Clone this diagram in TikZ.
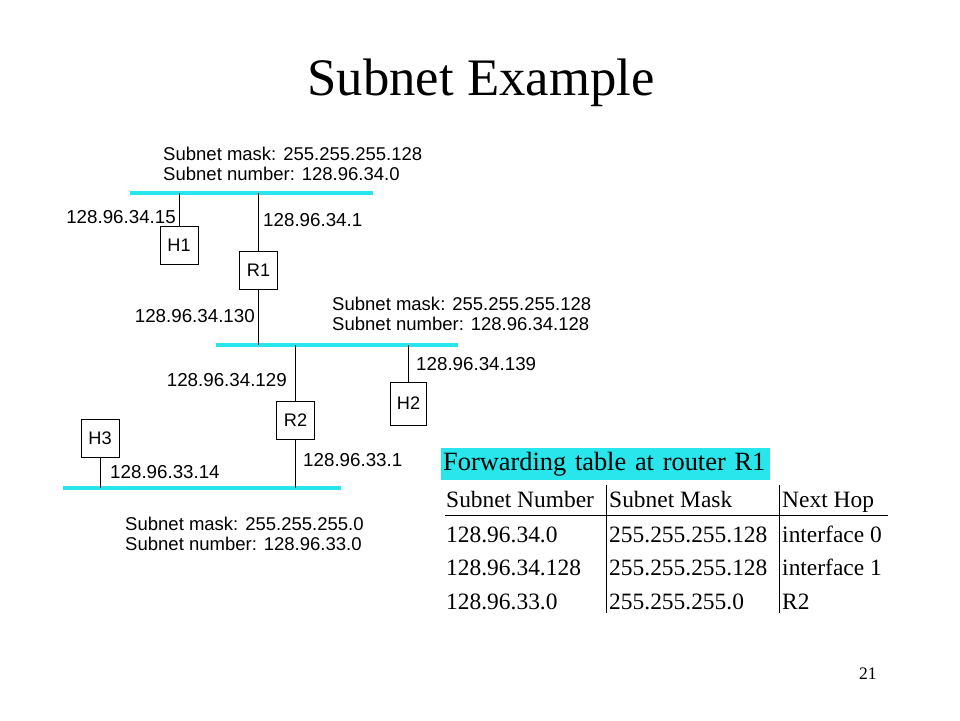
\documentclass[tikz,border=0pt]{standalone}
\usepackage{fontspec}
\setmainfont{Liberation Serif}
\newfontfamily\arialfont{Liberation Sans}
\usetikzlibrary{positioning}
\definecolor{netcyan}{RGB}{40,230,235}

\begin{document}
\begin{tikzpicture}[x=0.03cm, y=-0.03cm,
  every node/.style={inner sep=0pt},
  devbox/.style={draw, minimum width=1.14cm, minimum height=1.14cm,
                 font=\arialfont\fontsize{15.5}{16}\selectfont},
  bus/.style={draw=netcyan, line width=3.6pt},
  addr/.style={font=\arialfont\fontsize{16}{17}\selectfont},
  netinfo/.style={anchor=north west, align=left,
                  font=\arialfont\fontsize{15.8}{17}\selectfont},
  cell/.style={anchor=base west, font=\fontsize{20}{22}\selectfont}]
\useasboundingbox (0,0) rectangle (960,720);

%% -- Title -------------------------------------------------------
\node[anchor=base, font=\fontsize{45}{50}\selectfont] (title) at (481,95) {Subnet Example};

%% -- Bus segments ------------------------------------------------
\coordinate (netAw) at (130,193); \coordinate (netAe) at (373,193);
\coordinate (netBw) at (216,345); \coordinate (netBe) at (458,345);
\coordinate (netCw) at (63,488);  \coordinate (netCe) at (341,488);
\draw[bus] (netAw) -- (netAe);
\draw[bus] (netBw) -- (netBe);
\draw[bus] (netCw) -- (netCe);

%% -- Subnet descriptions -----------------------------------------
\node[netinfo] (infoA) at (163,147) {Subnet mask: 255.255.255.128\\Subnet number: 128.96.34.0};
\node[netinfo] (infoB) at (332,297) {Subnet mask: 255.255.255.128\\Subnet number: 128.96.34.128};
\node[netinfo] (infoC) at (125,517) {Subnet mask: 255.255.255.0\\Subnet number: 128.96.33.0};

%% -- Hosts and routers -------------------------------------------
\node[devbox] (H1) at (179,245)   {H1};
\node[devbox] (R1) at (258.5,270) {R1};
\node[devbox] (R2) at (295.5,420) {R2};
\node[devbox, minimum width=1.08cm, minimum height=1.29cm] (H2) at (408.5,403.5) {H2};
\node[devbox] (H3) at (100,438.5) {H3};

%% -- Links to the buses ------------------------------------------
\draw (H1.north) -- (H1.north |- netAw);
\draw (R1.north) -- (R1.north |- netAw);
\draw (R1.south) -- (R1.south |- netBw);
\draw (R2.north) -- (R2.north |- netBw);
\draw (H2.north) -- (H2.north |- netBw);
\draw (R2.south) -- (R2.south |- netCw);
\draw (H3.south) -- (H3.south |- netCw);

%% -- Interface addresses -----------------------------------------
\node[addr, anchor=base east] (ipH1)  at (176,223) {128.96.34.15};
\node[addr, anchor=base west] (ipR1a) at (263,226) {128.96.34.1};
\node[addr, anchor=base east] (ipR1b) at (255,322) {128.96.34.130};
\node[addr, anchor=base east] (ipR2a) at (287,386) {128.96.34.129};
\node[addr, anchor=base west] (ipH2)  at (416,370) {128.96.34.139};
\node[addr, anchor=base west] (ipR2b) at (303,466) {128.96.33.1};
\node[addr, anchor=base west] (ipH3)  at (110,478) {128.96.33.14};

%% -- Forwarding table --------------------------------------------
\node[anchor=west, fill=netcyan, minimum width=9.87cm, minimum height=0.96cm,
      inner xsep=0.06cm, text width=9.75cm, align=left,
      font=\fontsize{22.5}{24}\selectfont] (tabtitle) at (441,464) {Forwarding table at router R1};

\node[cell] (hdrNum)  at (446,507) {Subnet Number};
\node[cell] (hdrMask) at (609,507) {Subnet Mask};
\node[cell] (hdrHop)  at (782,507) {Next Hop};

\node[cell] (numA)  at (446,542) {128.96.34.0};
\node[cell] (maskA) at (609,542) {255.255.255.128};
\node[cell] (hopA)  at (782,542) {interface 0};

\node[cell] (numB)  at (446,575) {128.96.34.128};
\node[cell] (maskB) at (609,575) {255.255.255.128};
\node[cell] (hopB)  at (782,575) {interface 1};

\node[cell] (numC)  at (446,609) {128.96.33.0};
\node[cell] (maskC) at (609,609) {255.255.255.0};
\node[cell] (hopC)  at (782,609) {R2};

\coordinate (ruleW) at (445,515); \coordinate (ruleE) at (888,515);
\coordinate (colAt) at (606,485); \coordinate (colAb) at (606,613);
\coordinate (colBt) at (779,485); \coordinate (colBb) at (779,613);
\draw (ruleW) -- (ruleE);
\draw (colAt) -- (colAb);
\draw (colBt) -- (colBb);

%% -- Page number -------------------------------------------------
\node[anchor=base east, font=\fontsize{15}{16}\selectfont] (pagenum) at (877,679) {21};
\end{tikzpicture}
\end{document}
